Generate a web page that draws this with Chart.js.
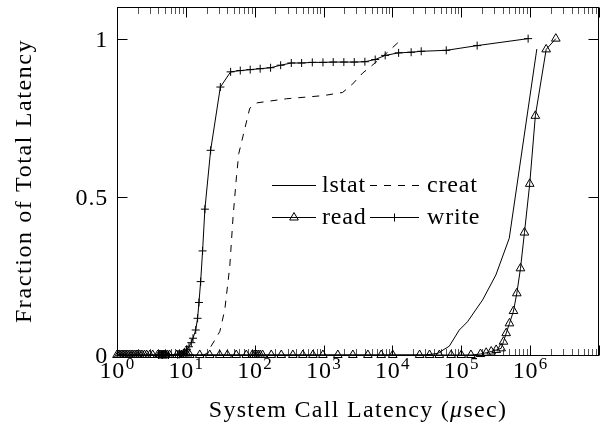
<!DOCTYPE html>
<html>
<head>
<meta charset="utf-8">
<script src="https://cdn.jsdelivr.net/npm/chart.js@4.4.1/dist/chart.umd.min.js"></script>
<style>
  html, body { margin: 0; padding: 0; background: #fff; }
  canvas { display: block; }
</style>
</head>
<body>
<canvas id="chart" width="605" height="430"></canvas>
<script>
// latency CDFs, x in usec
const lstatX = [1, 3, 10, 100, 1000, 10000, 30000, 45400, 67000, 93500, 123000, 204000, 318000, 497000, 1250000];
const lstatY = [0, 0, 0, 0, 0, 0, 0, 0.005, 0.028, 0.079, 0.105, 0.174, 0.253, 0.369, 0.967];

const creatX = [1, 5, 10, 15, 18, 20, 22.3, 31.1, 36.7, 43.4, 48.5, 54.3, 58.7, 84.7, 108, 290, 1000, 1890, 2570, 3690, 5590, 8500, 13400];
const creatY = [0, 0, 0, 0, 0, 0.005, 0.021, 0.074, 0.142, 0.279, 0.437, 0.563, 0.637, 0.78, 0.797, 0.81, 0.82, 0.83, 0.854, 0.891, 0.923, 0.957, 0.997];

const readX = [1, 1.05, 1.1, 1.16, 1.22, 1.28, 1.35, 1.42, 1.5, 1.6, 1.7, 1.8, 1.9, 2.0, 2.15, 2.3, 2.5, 2.7, 3.0, 3.3,
  3.9, 4.1, 4.3, 4.5, 4.7, 4.9, 5.1, 5.4, 5.8, 7.4, 8.0, 8.6, 9.2, 9.8, 10.5, 11.4,
  15.9, 22.2, 31, 40, 54, 75.5, 92, 98, 105, 112, 120, 130, 174, 243, 358, 500, 700, 977,
  1610, 2660, 4400, 6870, 10100, 24800, 34600, 48000, 71300, 100000, 138000,
  190000, 230000, 272000, 321000, 379000, 410000, 449000, 501000, 573000, 640000, 724000, 827000, 986000, 1190000, 1710000, 2360000];
const readY = [0, 0, 0, 0, 0, 0, 0, 0, 0, 0, 0, 0, 0, 0, 0, 0, 0, 0, 0, 0,
  0, 0, 0, 0, 0, 0, 0, 0, 0, 0, 0, 0, 0, 0, 0, 0,
  0, 0, 0, 0, 0, 0, 0, 0, 0, 0, 0, 0, 0, 0, 0, 0, 0, 0,
  0, 0, 0, 0, 0, 0, 0, 0, 0, 0, 0,
  0.003, 0.007, 0.011, 0.016, 0.021, 0.042, 0.069, 0.10, 0.139, 0.195, 0.274, 0.387, 0.541, 0.756, 0.966, 1.0];

const writeX = [4, 4.2, 4.4, 4.6, 4.8, 5.0, 5.3, 5.6, 7.6, 8.1, 8.6, 9.1, 9.6, 10.4, 11.1, 12.0, 12.7, 13.9,
  14.8, 15.5, 16.4, 17.5, 18.9, 22.9, 31.7, 44.7, 61.7, 86, 120, 170, 238, 340, 480, 686, 980, 1380, 1970,
  2790, 3980, 5620, 7850, 12300, 18700, 26200, 60500, 170000, 935000];
const writeY = [0, 0, 0, 0, 0, 0, 0, 0, 0.001, 0.002, 0.003, 0.005, 0.010, 0.018, 0.026, 0.039, 0.053, 0.079,
  0.116, 0.166, 0.232, 0.329, 0.461, 0.647, 0.847, 0.895, 0.899, 0.902, 0.905, 0.908, 0.916, 0.923, 0.923, 0.925, 0.925, 0.926, 0.926,
  0.926, 0.927, 0.934, 0.947, 0.955, 0.957, 0.960, 0.963, 0.978, 1.0];

const xExponents = [0, 1, 2, 3, 4, 5, 6];
const yTicks = [0, 0.5, 1];
const yTickLabels = ["0", "0.5", "1"];

const serif = '"Liberation Serif", "Times New Roman", serif';

function pts(xs, ys) {
    return xs.map((x, i) => ({ x: x, y: ys[i] }));
}

// frame with inward ticks, like a pgfplots box axis
const axisFrame = {
    id: "axisFrame",
    beforeDatasetsDraw(chart) {
        const { ctx, chartArea: a, scales: { x, y } } = chart;
        const l = Math.round(a.left) + 0.5, r = Math.round(a.right) - 0.5;
        const t = Math.round(a.top) + 0.5, b = Math.round(a.bottom) + 0.5;
        ctx.save();
        ctx.lineWidth = 1;

        // minor log ticks are a touch lighter
        ctx.strokeStyle = "#555";
        ctx.beginPath();
        for (let e = 0; e < 7; e++) {
            for (let m = 2; m <= 9; m++) {
                const px = Math.round(x.getPixelForValue(m * Math.pow(10, e))) + 0.5;
                ctx.moveTo(px, b); ctx.lineTo(px, b - 6.5);
                ctx.moveTo(px, t); ctx.lineTo(px, t + 6.5);
            }
        }
        ctx.stroke();

        ctx.strokeStyle = "#000";
        ctx.beginPath();
        for (let e = 0; e <= 7; e++) {
            const px = Math.round(x.getPixelForValue(Math.pow(10, e))) + 0.5;
            ctx.moveTo(px, b); ctx.lineTo(px, b - 10);
            ctx.moveTo(px, t); ctx.lineTo(px, t + 10);
        }
        yTicks.forEach(v => {
            const py = Math.round(y.getPixelForValue(v)) + 0.5;
            ctx.moveTo(l, py); ctx.lineTo(l + 10, py);
            ctx.moveTo(r, py); ctx.lineTo(r - 10, py);
        });
        ctx.stroke();
        ctx.strokeRect(l, t, r - l, b - t);
        ctx.restore();
    },
    afterDraw(chart) {
        const { ctx, chartArea: a, scales: { x, y } } = chart;
        ctx.save();
        ctx.fillStyle = "#000";
        ctx.letterSpacing = "0.8px";

        // x tick labels 10^k
        ctx.textBaseline = "alphabetic";
        ctx.textAlign = "left";
        xExponents.forEach(e => {
            const px = x.getPixelForValue(Math.pow(10, e));
            ctx.font = "24px " + serif;
            const wBase = ctx.measureText("10").width;
            ctx.font = "17px " + serif;
            const wExp = ctx.measureText(String(e)).width;
            const left = px - (wBase + wExp) / 2;
            ctx.font = "24px " + serif;
            ctx.fillText("10", left, 378);
            ctx.font = "17px " + serif;
            ctx.fillText(String(e), left + wBase + 0.5, 369);
        });

        // y tick labels
        ctx.font = "24px " + serif;
        ctx.textAlign = "right";
        yTicks.forEach((v, i) => {
            ctx.fillText(yTickLabels[i], 108, y.getPixelForValue(v) + 8);
        });

        // x title, with an italic mu
        ctx.letterSpacing = "1.3px";
        const parts = [["System Call Latency (", ""], ["\u03bc", "italic "], ["sec)", ""]];
        let total = 0;
        parts.forEach(p => { ctx.font = p[1] + "24px " + serif; total += ctx.measureText(p[0]).width; });
        let cx = (a.left + a.right) / 2 - total / 2;
        ctx.textAlign = "left";
        parts.forEach(p => {
            ctx.font = p[1] + "24px " + serif;
            ctx.fillText(p[0], cx, 417);
            cx += ctx.measureText(p[0]).width;
        });

        // y title
        ctx.letterSpacing = "1.6px";
        ctx.translate(31, (a.top + a.bottom) / 2);
        ctx.rotate(-Math.PI / 2);
        ctx.textAlign = "center";
        ctx.font = "24px " + serif;
        ctx.fillText("Fraction of Total Latency", 0, 0);
        ctx.restore();
    }
};

// two-column legend in the middle of the plot
const legendBox = {
    id: "legendBox",
    afterDatasetsDraw(chart) {
        const ctx = chart.ctx;
        const sampleX = [[272, 316], [370, 419]];
        const textX = [322, 427];
        const rowY = [185, 217];
        ctx.save();
        chart.data.datasets.forEach((ds, i) => {
            const col = i % 2, row = Math.floor(i / 2);
            const yy = rowY[row] + 0.5;
            ctx.strokeStyle = ds.borderColor;
            ctx.lineWidth = ds.borderWidth;
            ctx.setLineDash(ds.borderDash || []);
            ctx.beginPath();
            ctx.moveTo(sampleX[col][0], yy);
            ctx.lineTo(sampleX[col][1], yy);
            ctx.stroke();
            ctx.setLineDash([]);
            if (ds.pointRadius > 0) {
                ctx.fillStyle = "rgba(0,0,0,0)";
                Chart.helpers.drawPoint(ctx, {
                    pointStyle: ds.pointStyle,
                    radius: ds.pointRadius,
                    rotation: 0,
                    borderWidth: 1
                }, (sampleX[col][0] + sampleX[col][1]) / 2, yy);
            }
            ctx.fillStyle = "#000";
            ctx.font = "24px " + serif;
            ctx.letterSpacing = "0.8px";
            ctx.textAlign = "left";
            ctx.fillText(ds.label, textX[col], rowY[row] + 7);
        });
        ctx.restore();
    }
};

const ctx = document.getElementById("chart").getContext("2d");

new Chart(ctx, {
    type: "line",
    data: {
        datasets: [
            {
                label: "lstat",
                data: pts(lstatX, lstatY),
                borderColor: "#000",
                borderWidth: 1,
                pointRadius: 0,
                clip: false,
                order: 4
            },
            {
                label: "creat",
                data: pts(creatX, creatY),
                borderColor: "#000",
                borderWidth: 1,
                borderDash: [7, 7],
                pointRadius: 0,
                clip: false,
                order: 3
            },
            {
                label: "read",
                data: pts(readX, readY),
                borderColor: "#000",
                borderWidth: 1,
                pointStyle: "triangle",
                pointRadius: 5,
                pointBorderWidth: 1,
                pointBorderColor: "#000",
                pointBackgroundColor: "rgba(0,0,0,0)",
                clip: false,
                order: 2
            },
            {
                label: "write",
                data: pts(writeX, writeY),
                borderColor: "#000",
                borderWidth: 1,
                pointStyle: "cross",
                pointRadius: 4,
                pointBorderWidth: 1,
                pointBorderColor: "#000",
                clip: false,
                order: 1
            }
        ]
    },
    options: {
        responsive: false,
        animation: false,
        events: [],
        layout: { padding: { left: 117, right: 5, top: 7, bottom: 75 } },
        plugins: {
            legend: { display: false },
            tooltip: { enabled: false }
        },
        scales: {
            x: { type: "logarithmic", min: 1, max: 1e7, display: false },
            y: { type: "linear", min: 0, max: 1.1, display: false }
        }
    },
    plugins: [axisFrame, legendBox]
});
</script>
</body>
</html>
